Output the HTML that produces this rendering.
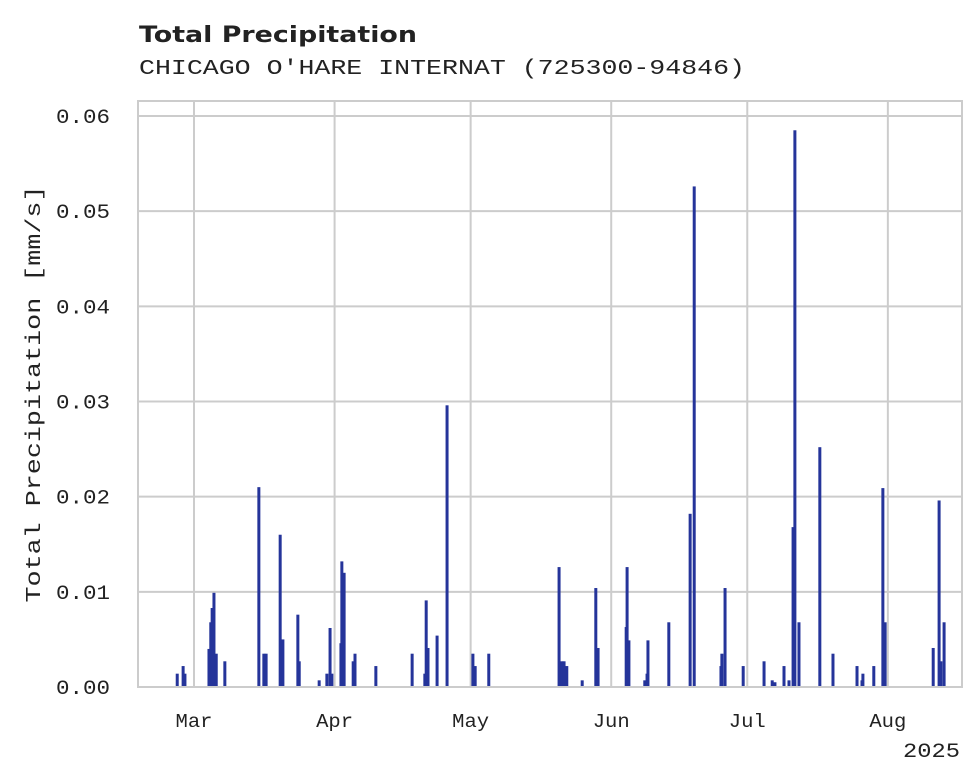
<!DOCTYPE html>
<html><head><meta charset="utf-8"><style>
body{margin:0;background:#fff}
svg{display:block}
text{fill:#222}
.mono{font-family:"Liberation Mono","DejaVu Sans Mono",monospace}
</style></head><body>
<svg id="chart" width="980" height="783" viewBox="0 0 980 783">
<text x="139" y="42" font-family="DejaVu Sans, sans-serif" font-weight="bold" font-size="22" textLength="278" lengthAdjust="spacingAndGlyphs">Total Precipitation</text>
<text class="mono" x="139" y="74" font-size="21" textLength="606" lengthAdjust="spacingAndGlyphs">CHICAGO O'HARE INTERNAT (725300-94846)</text>
<text class="mono" transform="translate(40,394) rotate(-90)" text-anchor="middle" font-size="21" textLength="417" lengthAdjust="spacingAndGlyphs">Total Precipitation [mm/s]</text>
<g id="grid"></g>
<g id="bars"></g>
<rect x="138" y="101" width="824" height="586" fill="none" stroke="#cccccc" stroke-width="2"/>
<g id="ticks"></g>
<text class="mono" x="960" y="757" text-anchor="end" font-size="20" textLength="57" lengthAdjust="spacingAndGlyphs">2025</text>
</svg>
<script>
const dayOfYear=[56.3,57.6,58.0,63.3,63.7,64.0,64.4,64.9,66.8,74.3,75.4,75.9,79.0,79.6,82.9,83.2,87.6,89.3,90.0,90.4,92.4,92.6,93.1,95.1,95.5,100.1,108.1,110.9,111.2,111.6,113.6,115.8,121.5,122.0,125.0,140.5,141.1,141.6,142.2,145.6,148.6,149.1,155.3,155.5,155.9,159.4,159.9,160.1,164.7,169.4,170.3,176.2,176.4,177.1,181.1,185.7,187.5,188.1,190.1,191.2,192.1,192.5,193.4,198.0,200.9,206.2,207.3,207.5,209.9,211.9,212.4,223.0,224.3,224.7,225.4];
const precip=[0.0014,0.0022,0.0014,0.004,0.0068,0.0083,0.0099,0.0035,0.0027,0.021,0.0035,0.0035,0.016,0.005,0.0076,0.0027,0.0007,0.0014,0.0062,0.0014,0.0046,0.0132,0.012,0.0027,0.0035,0.0022,0.0035,0.0014,0.0091,0.0041,0.0054,0.0296,0.0035,0.0022,0.0035,0.0126,0.0027,0.0027,0.0022,0.0007,0.0104,0.0041,0.0063,0.0126,0.0049,0.0007,0.0014,0.0049,0.0068,0.0182,0.0526,0.0022,0.0035,0.0104,0.0022,0.0027,0.0007,0.0005,0.0022,0.0007,0.0168,0.0585,0.0068,0.0252,0.0035,0.0022,0.0007,0.0014,0.0022,0.0209,0.0068,0.0041,0.0196,0.0027,0.0068];
const yTicks=[0,0.01,0.02,0.03,0.04,0.05,0.06];
const yTickLabels=["0.00","0.01","0.02","0.03","0.04","0.05","0.06"];
const monthDays=[60,91,121,152,182,213];
const monthLabels=["Mar","Apr","May","Jun","Jul","Aug"];

const NS="http://www.w3.org/2000/svg";
const X0=138,X1=962,Y0=687,Y1=101;
const dMin=47.65,dMax=229.35,vMax=0.06,vTopPx=116;
const xs=d=>X0+(d-dMin)/(dMax-dMin)*(X1-X0);
const ys=v=>Y0-v/vMax*(Y0-vTopPx);
function mk(t,a){const e=document.createElementNS(NS,t);for(const k in a)e.setAttribute(k,a[k]);return e;}
const grid=document.getElementById('grid'),bars=document.getElementById('bars'),ticks=document.getElementById('ticks');
yTicks.forEach((v,i)=>{
  const l=mk('line',{x1:X0,x2:X1,y1:ys(v),y2:ys(v),stroke:'#cccccc','stroke-width':2});
  
  
  grid.appendChild(l);
  const t=mk('text',{x:110,y:ys(v)+7,'text-anchor':'end','font-size':20,class:'mono',textLength:54,lengthAdjust:'spacingAndGlyphs'});
  t.textContent=yTickLabels[i];
  
  
  ticks.appendChild(t);
});
monthDays.forEach((d,i)=>{
  const l=mk('line',{x1:xs(d),x2:xs(d),y1:Y1,y2:Y0,stroke:'#cccccc','stroke-width':2});
  
  
  grid.appendChild(l);
  const t=mk('text',{x:xs(d),y:727,'text-anchor':'middle','font-size':19,class:'mono',textLength:37,lengthAdjust:'spacingAndGlyphs'});
  t.textContent=monthLabels[i];
  
  
  ticks.appendChild(t);
});
dayOfYear.forEach((d,i)=>{
  const y=ys(precip[i]);
  const r=mk('rect',{x:xs(d)-1.5,y:y,width:3,height:Y0-y,fill:'#25349a'});
  
  
  bars.appendChild(r);
});
</script>
</body></html>
